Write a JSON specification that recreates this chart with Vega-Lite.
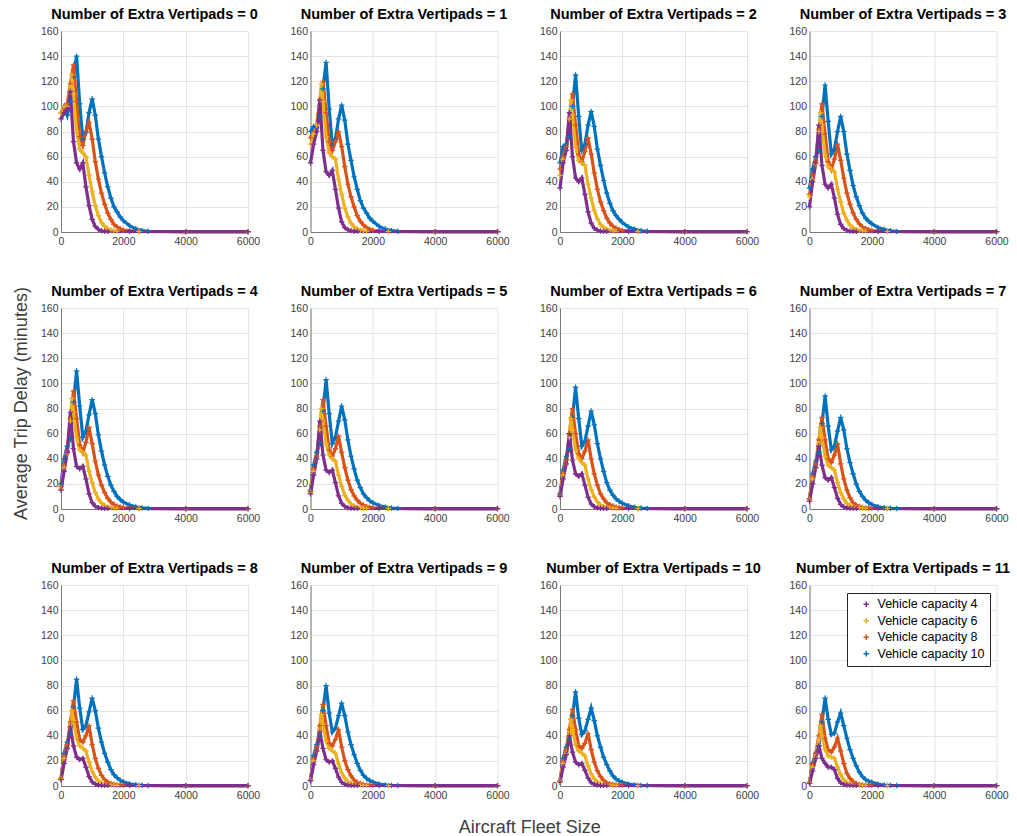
{
"$schema": "https://vega.github.io/schema/vega-lite/v6.json",
"background": "white",
"padding": {"left": 13, "top": 6, "right": 5, "bottom": 5},
"config": {
 "font": "Liberation Sans",
 "view": {"stroke": null},
 "axis": {"labelFontSize": 10.5, "labelColor": "#404040", "labelFont": "Liberation Sans", "domainColor": "#7a7a7a", "domainWidth": 1, "gridColor": "#e4e4e4", "gridWidth": 1, "ticks": false, "labelPadding": 3, "title": null, "labelOverlap": false},
 "axisX": {"labelFlush": false, "labelPadding": 4},
 "header": {"labelFontSize": 14.5, "labelFontWeight": "bold", "labelColor": "#000000", "labelPadding": 4, "labelFont": "Liberation Sans"}
},
"title": {"text": "Aircraft Fleet Size", "orient": "bottom", "anchor": "middle", "fontSize": 18, "fontWeight": "normal", "color": "#404040", "offset": 18, "dx": 18, "font": "Liberation Sans"},
"data": {"values": [
{"v":0,"c":10,"x":0,"y":95},{"v":0,"c":10,"x":100,"y":100},{"v":0,"c":10,"x":200,"y":93},{"v":0,"c":10,"x":300,"y":104},{"v":0,"c":10,"x":400,"y":124},{"v":0,"c":10,"x":500,"y":140},{"v":0,"c":10,"x":600,"y":102},{"v":0,"c":10,"x":700,"y":74},{"v":0,"c":10,"x":800,"y":79},{"v":0,"c":10,"x":900,"y":95},{"v":0,"c":10,"x":1000,"y":106},{"v":0,"c":10,"x":1100,"y":93},{"v":0,"c":10,"x":1200,"y":74},{"v":0,"c":10,"x":1300,"y":60},{"v":0,"c":10,"x":1400,"y":47},{"v":0,"c":10,"x":1500,"y":36},{"v":0,"c":10,"x":1600,"y":27},{"v":0,"c":10,"x":1700,"y":20},{"v":0,"c":10,"x":1800,"y":16},{"v":0,"c":10,"x":1900,"y":12},{"v":0,"c":10,"x":2000,"y":9},{"v":0,"c":10,"x":2200,"y":5},{"v":0,"c":10,"x":2400,"y":2.5},{"v":0,"c":10,"x":2600,"y":1.2},{"v":0,"c":10,"x":2800,"y":0.6},{"v":0,"c":10,"x":4000,"y":0.3},{"v":0,"c":10,"x":6000,"y":0.3},
{"v":0,"c":8,"x":0,"y":95},{"v":0,"c":8,"x":100,"y":98},{"v":0,"c":8,"x":200,"y":102},{"v":0,"c":8,"x":300,"y":118},{"v":0,"c":8,"x":400,"y":133},{"v":0,"c":8,"x":500,"y":104},{"v":0,"c":8,"x":600,"y":76},{"v":0,"c":8,"x":700,"y":69},{"v":0,"c":8,"x":800,"y":80},{"v":0,"c":8,"x":900,"y":87},{"v":0,"c":8,"x":1000,"y":74},{"v":0,"c":8,"x":1100,"y":56},{"v":0,"c":8,"x":1200,"y":42},{"v":0,"c":8,"x":1300,"y":31},{"v":0,"c":8,"x":1400,"y":22},{"v":0,"c":8,"x":1500,"y":15},{"v":0,"c":8,"x":1600,"y":10},{"v":0,"c":8,"x":1700,"y":6},{"v":0,"c":8,"x":1800,"y":4},{"v":0,"c":8,"x":1900,"y":2.5},{"v":0,"c":8,"x":2000,"y":1.5},{"v":0,"c":8,"x":2500,"y":0.6},{"v":0,"c":8,"x":4000,"y":0.3},{"v":0,"c":8,"x":6000,"y":0.3},
{"v":0,"c":6,"x":0,"y":95},{"v":0,"c":6,"x":100,"y":100},{"v":0,"c":6,"x":200,"y":100},{"v":0,"c":6,"x":300,"y":115},{"v":0,"c":6,"x":350,"y":125},{"v":0,"c":6,"x":400,"y":110},{"v":0,"c":6,"x":500,"y":80},{"v":0,"c":6,"x":600,"y":66},{"v":0,"c":6,"x":700,"y":63},{"v":0,"c":6,"x":800,"y":60},{"v":0,"c":6,"x":900,"y":45},{"v":0,"c":6,"x":1000,"y":32},{"v":0,"c":6,"x":1100,"y":21},{"v":0,"c":6,"x":1200,"y":13},{"v":0,"c":6,"x":1300,"y":7.5},{"v":0,"c":6,"x":1400,"y":4.5},{"v":0,"c":6,"x":1500,"y":2.7},{"v":0,"c":6,"x":1600,"y":1.6},{"v":0,"c":6,"x":1700,"y":1},{"v":0,"c":6,"x":1800,"y":0.7},{"v":0,"c":6,"x":2500,"y":0.4},{"v":0,"c":6,"x":4000,"y":0.3},{"v":0,"c":6,"x":6000,"y":0.3},
{"v":0,"c":4,"x":0,"y":90},{"v":0,"c":4,"x":100,"y":95},{"v":0,"c":4,"x":200,"y":98},{"v":0,"c":4,"x":300,"y":112},{"v":0,"c":4,"x":400,"y":72},{"v":0,"c":4,"x":500,"y":55},{"v":0,"c":4,"x":600,"y":50},{"v":0,"c":4,"x":700,"y":55},{"v":0,"c":4,"x":800,"y":36},{"v":0,"c":4,"x":900,"y":21},{"v":0,"c":4,"x":1000,"y":10},{"v":0,"c":4,"x":1100,"y":4.5},{"v":0,"c":4,"x":1200,"y":2},{"v":0,"c":4,"x":1300,"y":1},{"v":0,"c":4,"x":1400,"y":0.6},{"v":0,"c":4,"x":1500,"y":0.5},{"v":0,"c":4,"x":2200,"y":0.4},{"v":0,"c":4,"x":4000,"y":0.3},{"v":0,"c":4,"x":6000,"y":0.3},
{"v":1,"c":10,"x":0,"y":80},{"v":1,"c":10,"x":100,"y":84},{"v":1,"c":10,"x":200,"y":83},{"v":1,"c":10,"x":300,"y":92},{"v":1,"c":10,"x":400,"y":114},{"v":1,"c":10,"x":500,"y":135},{"v":1,"c":10,"x":600,"y":98},{"v":1,"c":10,"x":700,"y":69},{"v":1,"c":10,"x":800,"y":74},{"v":1,"c":10,"x":900,"y":90},{"v":1,"c":10,"x":1000,"y":101},{"v":1,"c":10,"x":1100,"y":89},{"v":1,"c":10,"x":1200,"y":70},{"v":1,"c":10,"x":1300,"y":57},{"v":1,"c":10,"x":1400,"y":44},{"v":1,"c":10,"x":1500,"y":34},{"v":1,"c":10,"x":1600,"y":25},{"v":1,"c":10,"x":1700,"y":19},{"v":1,"c":10,"x":1800,"y":15},{"v":1,"c":10,"x":1900,"y":11},{"v":1,"c":10,"x":2000,"y":8.5},{"v":1,"c":10,"x":2200,"y":4.5},{"v":1,"c":10,"x":2400,"y":2.3},{"v":1,"c":10,"x":2600,"y":1.1},{"v":1,"c":10,"x":2800,"y":0.6},{"v":1,"c":10,"x":4000,"y":0.3},{"v":1,"c":10,"x":6000,"y":0.3},
{"v":1,"c":8,"x":0,"y":75},{"v":1,"c":8,"x":100,"y":80},{"v":1,"c":8,"x":200,"y":85},{"v":1,"c":8,"x":300,"y":105},{"v":1,"c":8,"x":400,"y":120},{"v":1,"c":8,"x":500,"y":95},{"v":1,"c":8,"x":600,"y":72},{"v":1,"c":8,"x":700,"y":65},{"v":1,"c":8,"x":800,"y":72},{"v":1,"c":8,"x":900,"y":80},{"v":1,"c":8,"x":1000,"y":68},{"v":1,"c":8,"x":1100,"y":52},{"v":1,"c":8,"x":1200,"y":38},{"v":1,"c":8,"x":1300,"y":28},{"v":1,"c":8,"x":1400,"y":20},{"v":1,"c":8,"x":1500,"y":13},{"v":1,"c":8,"x":1600,"y":8.5},{"v":1,"c":8,"x":1700,"y":5.5},{"v":1,"c":8,"x":1800,"y":3.5},{"v":1,"c":8,"x":1900,"y":2.2},{"v":1,"c":8,"x":2000,"y":1.4},{"v":1,"c":8,"x":2500,"y":0.5},{"v":1,"c":8,"x":4000,"y":0.3},{"v":1,"c":8,"x":6000,"y":0.3},
{"v":1,"c":6,"x":0,"y":70},{"v":1,"c":6,"x":100,"y":78},{"v":1,"c":6,"x":200,"y":85},{"v":1,"c":6,"x":300,"y":105},{"v":1,"c":6,"x":350,"y":118},{"v":1,"c":6,"x":400,"y":104},{"v":1,"c":6,"x":500,"y":76},{"v":1,"c":6,"x":600,"y":63},{"v":1,"c":6,"x":700,"y":60},{"v":1,"c":6,"x":800,"y":58},{"v":1,"c":6,"x":900,"y":42},{"v":1,"c":6,"x":1000,"y":30},{"v":1,"c":6,"x":1100,"y":19},{"v":1,"c":6,"x":1200,"y":12},{"v":1,"c":6,"x":1300,"y":7},{"v":1,"c":6,"x":1400,"y":4},{"v":1,"c":6,"x":1500,"y":2.5},{"v":1,"c":6,"x":1600,"y":1.5},{"v":1,"c":6,"x":1700,"y":1},{"v":1,"c":6,"x":1800,"y":0.7},{"v":1,"c":6,"x":2500,"y":0.4},{"v":1,"c":6,"x":4000,"y":0.3},{"v":1,"c":6,"x":6000,"y":0.3},
{"v":1,"c":4,"x":0,"y":55},{"v":1,"c":4,"x":100,"y":70},{"v":1,"c":4,"x":200,"y":80},{"v":1,"c":4,"x":300,"y":105},{"v":1,"c":4,"x":400,"y":65},{"v":1,"c":4,"x":500,"y":48},{"v":1,"c":4,"x":600,"y":45},{"v":1,"c":4,"x":700,"y":49},{"v":1,"c":4,"x":800,"y":34},{"v":1,"c":4,"x":900,"y":19},{"v":1,"c":4,"x":1000,"y":8},{"v":1,"c":4,"x":1100,"y":3.5},{"v":1,"c":4,"x":1200,"y":1.8},{"v":1,"c":4,"x":1300,"y":1},{"v":1,"c":4,"x":1400,"y":0.6},{"v":1,"c":4,"x":1500,"y":0.5},{"v":1,"c":4,"x":2200,"y":0.4},{"v":1,"c":4,"x":4000,"y":0.3},{"v":1,"c":4,"x":6000,"y":0.3},
{"v":2,"c":10,"x":0,"y":55},{"v":2,"c":10,"x":100,"y":68},{"v":2,"c":10,"x":200,"y":70},{"v":2,"c":10,"x":300,"y":76},{"v":2,"c":10,"x":400,"y":100},{"v":2,"c":10,"x":500,"y":125},{"v":2,"c":10,"x":600,"y":92},{"v":2,"c":10,"x":700,"y":64},{"v":2,"c":10,"x":800,"y":70},{"v":2,"c":10,"x":900,"y":85},{"v":2,"c":10,"x":1000,"y":96},{"v":2,"c":10,"x":1100,"y":84},{"v":2,"c":10,"x":1200,"y":66},{"v":2,"c":10,"x":1300,"y":53},{"v":2,"c":10,"x":1400,"y":41},{"v":2,"c":10,"x":1500,"y":31},{"v":2,"c":10,"x":1600,"y":23},{"v":2,"c":10,"x":1700,"y":17},{"v":2,"c":10,"x":1800,"y":13},{"v":2,"c":10,"x":1900,"y":10},{"v":2,"c":10,"x":2000,"y":7.5},{"v":2,"c":10,"x":2200,"y":4},{"v":2,"c":10,"x":2400,"y":2.1},{"v":2,"c":10,"x":2600,"y":1},{"v":2,"c":10,"x":2800,"y":0.6},{"v":2,"c":10,"x":4000,"y":0.3},{"v":2,"c":10,"x":6000,"y":0.3},
{"v":2,"c":8,"x":0,"y":50},{"v":2,"c":8,"x":100,"y":60},{"v":2,"c":8,"x":200,"y":68},{"v":2,"c":8,"x":300,"y":90},{"v":2,"c":8,"x":400,"y":110},{"v":2,"c":8,"x":500,"y":85},{"v":2,"c":8,"x":600,"y":62},{"v":2,"c":8,"x":700,"y":56},{"v":2,"c":8,"x":800,"y":64},{"v":2,"c":8,"x":900,"y":75},{"v":2,"c":8,"x":1000,"y":62},{"v":2,"c":8,"x":1100,"y":47},{"v":2,"c":8,"x":1200,"y":34},{"v":2,"c":8,"x":1300,"y":24},{"v":2,"c":8,"x":1400,"y":17},{"v":2,"c":8,"x":1500,"y":11},{"v":2,"c":8,"x":1600,"y":7},{"v":2,"c":8,"x":1700,"y":4.5},{"v":2,"c":8,"x":1800,"y":3},{"v":2,"c":8,"x":1900,"y":2},{"v":2,"c":8,"x":2000,"y":1.3},{"v":2,"c":8,"x":2500,"y":0.5},{"v":2,"c":8,"x":4000,"y":0.3},{"v":2,"c":8,"x":6000,"y":0.3},
{"v":2,"c":6,"x":0,"y":45},{"v":2,"c":6,"x":100,"y":58},{"v":2,"c":6,"x":200,"y":65},{"v":2,"c":6,"x":300,"y":90},{"v":2,"c":6,"x":350,"y":105},{"v":2,"c":6,"x":400,"y":93},{"v":2,"c":6,"x":500,"y":68},{"v":2,"c":6,"x":600,"y":57},{"v":2,"c":6,"x":700,"y":55},{"v":2,"c":6,"x":800,"y":53},{"v":2,"c":6,"x":900,"y":38},{"v":2,"c":6,"x":1000,"y":27},{"v":2,"c":6,"x":1100,"y":17},{"v":2,"c":6,"x":1200,"y":10.5},{"v":2,"c":6,"x":1300,"y":6},{"v":2,"c":6,"x":1400,"y":3.6},{"v":2,"c":6,"x":1500,"y":2.2},{"v":2,"c":6,"x":1600,"y":1.4},{"v":2,"c":6,"x":1700,"y":0.9},{"v":2,"c":6,"x":1800,"y":0.6},{"v":2,"c":6,"x":2500,"y":0.4},{"v":2,"c":6,"x":4000,"y":0.3},{"v":2,"c":6,"x":6000,"y":0.3},
{"v":2,"c":4,"x":0,"y":35},{"v":2,"c":4,"x":100,"y":55},{"v":2,"c":4,"x":200,"y":65},{"v":2,"c":4,"x":300,"y":95},{"v":2,"c":4,"x":400,"y":60},{"v":2,"c":4,"x":500,"y":43},{"v":2,"c":4,"x":600,"y":40},{"v":2,"c":4,"x":700,"y":43},{"v":2,"c":4,"x":800,"y":30},{"v":2,"c":4,"x":900,"y":16},{"v":2,"c":4,"x":1000,"y":7},{"v":2,"c":4,"x":1100,"y":3},{"v":2,"c":4,"x":1200,"y":1.4},{"v":2,"c":4,"x":1300,"y":0.8},{"v":2,"c":4,"x":1400,"y":0.5},{"v":2,"c":4,"x":1500,"y":0.5},{"v":2,"c":4,"x":2200,"y":0.4},{"v":2,"c":4,"x":4000,"y":0.3},{"v":2,"c":4,"x":6000,"y":0.3},
{"v":3,"c":10,"x":0,"y":35},{"v":3,"c":10,"x":100,"y":50},{"v":3,"c":10,"x":200,"y":60},{"v":3,"c":10,"x":300,"y":65},{"v":3,"c":10,"x":400,"y":92},{"v":3,"c":10,"x":500,"y":117},{"v":3,"c":10,"x":600,"y":88},{"v":3,"c":10,"x":700,"y":62},{"v":3,"c":10,"x":800,"y":66},{"v":3,"c":10,"x":900,"y":80},{"v":3,"c":10,"x":1000,"y":92},{"v":3,"c":10,"x":1100,"y":80},{"v":3,"c":10,"x":1200,"y":62},{"v":3,"c":10,"x":1300,"y":49},{"v":3,"c":10,"x":1400,"y":37},{"v":3,"c":10,"x":1500,"y":28},{"v":3,"c":10,"x":1600,"y":21},{"v":3,"c":10,"x":1700,"y":15},{"v":3,"c":10,"x":1800,"y":11},{"v":3,"c":10,"x":1900,"y":8.5},{"v":3,"c":10,"x":2000,"y":6.5},{"v":3,"c":10,"x":2200,"y":3.6},{"v":3,"c":10,"x":2400,"y":1.9},{"v":3,"c":10,"x":2600,"y":1},{"v":3,"c":10,"x":2800,"y":0.5},{"v":3,"c":10,"x":4000,"y":0.3},{"v":3,"c":10,"x":6000,"y":0.3},
{"v":3,"c":8,"x":0,"y":30},{"v":3,"c":8,"x":100,"y":45},{"v":3,"c":8,"x":200,"y":57},{"v":3,"c":8,"x":300,"y":82},{"v":3,"c":8,"x":400,"y":102},{"v":3,"c":8,"x":500,"y":78},{"v":3,"c":8,"x":600,"y":56},{"v":3,"c":8,"x":700,"y":50},{"v":3,"c":8,"x":800,"y":58},{"v":3,"c":8,"x":900,"y":70},{"v":3,"c":8,"x":1000,"y":57},{"v":3,"c":8,"x":1100,"y":43},{"v":3,"c":8,"x":1200,"y":31},{"v":3,"c":8,"x":1300,"y":22},{"v":3,"c":8,"x":1400,"y":15},{"v":3,"c":8,"x":1500,"y":10},{"v":3,"c":8,"x":1600,"y":6.5},{"v":3,"c":8,"x":1700,"y":4},{"v":3,"c":8,"x":1800,"y":2.7},{"v":3,"c":8,"x":1900,"y":1.8},{"v":3,"c":8,"x":2000,"y":1.2},{"v":3,"c":8,"x":2500,"y":0.5},{"v":3,"c":8,"x":4000,"y":0.3},{"v":3,"c":8,"x":6000,"y":0.3},
{"v":3,"c":6,"x":0,"y":28},{"v":3,"c":6,"x":100,"y":42},{"v":3,"c":6,"x":200,"y":54},{"v":3,"c":6,"x":300,"y":80},{"v":3,"c":6,"x":350,"y":95},{"v":3,"c":6,"x":400,"y":85},{"v":3,"c":6,"x":500,"y":62},{"v":3,"c":6,"x":600,"y":52},{"v":3,"c":6,"x":700,"y":50},{"v":3,"c":6,"x":800,"y":48},{"v":3,"c":6,"x":900,"y":34},{"v":3,"c":6,"x":1000,"y":24},{"v":3,"c":6,"x":1100,"y":15},{"v":3,"c":6,"x":1200,"y":9.5},{"v":3,"c":6,"x":1300,"y":5.5},{"v":3,"c":6,"x":1400,"y":3.3},{"v":3,"c":6,"x":1500,"y":2},{"v":3,"c":6,"x":1600,"y":1.3},{"v":3,"c":6,"x":1700,"y":0.9},{"v":3,"c":6,"x":1800,"y":0.6},{"v":3,"c":6,"x":2500,"y":0.4},{"v":3,"c":6,"x":4000,"y":0.3},{"v":3,"c":6,"x":6000,"y":0.3},
{"v":3,"c":4,"x":0,"y":20},{"v":3,"c":4,"x":100,"y":40},{"v":3,"c":4,"x":200,"y":55},{"v":3,"c":4,"x":300,"y":85},{"v":3,"c":4,"x":400,"y":53},{"v":3,"c":4,"x":500,"y":38},{"v":3,"c":4,"x":600,"y":35},{"v":3,"c":4,"x":700,"y":38},{"v":3,"c":4,"x":800,"y":27},{"v":3,"c":4,"x":900,"y":14},{"v":3,"c":4,"x":1000,"y":6},{"v":3,"c":4,"x":1100,"y":2.7},{"v":3,"c":4,"x":1200,"y":1.2},{"v":3,"c":4,"x":1300,"y":0.7},{"v":3,"c":4,"x":1400,"y":0.5},{"v":3,"c":4,"x":1500,"y":0.5},{"v":3,"c":4,"x":2200,"y":0.4},{"v":3,"c":4,"x":4000,"y":0.3},{"v":3,"c":4,"x":6000,"y":0.3},
{"v":4,"c":10,"x":0,"y":20},{"v":4,"c":10,"x":100,"y":40},{"v":4,"c":10,"x":200,"y":50},{"v":4,"c":10,"x":300,"y":56},{"v":4,"c":10,"x":400,"y":85},{"v":4,"c":10,"x":500,"y":110},{"v":4,"c":10,"x":600,"y":82},{"v":4,"c":10,"x":700,"y":57},{"v":4,"c":10,"x":800,"y":62},{"v":4,"c":10,"x":900,"y":75},{"v":4,"c":10,"x":1000,"y":87},{"v":4,"c":10,"x":1100,"y":76},{"v":4,"c":10,"x":1200,"y":59},{"v":4,"c":10,"x":1300,"y":46},{"v":4,"c":10,"x":1400,"y":35},{"v":4,"c":10,"x":1500,"y":26},{"v":4,"c":10,"x":1600,"y":19},{"v":4,"c":10,"x":1700,"y":14},{"v":4,"c":10,"x":1800,"y":10},{"v":4,"c":10,"x":1900,"y":7.5},{"v":4,"c":10,"x":2000,"y":5.5},{"v":4,"c":10,"x":2200,"y":3.2},{"v":4,"c":10,"x":2400,"y":1.7},{"v":4,"c":10,"x":2600,"y":0.9},{"v":4,"c":10,"x":2800,"y":0.5},{"v":4,"c":10,"x":4000,"y":0.3},{"v":4,"c":10,"x":6000,"y":0.3},
{"v":4,"c":8,"x":0,"y":18},{"v":4,"c":8,"x":100,"y":35},{"v":4,"c":8,"x":200,"y":46},{"v":4,"c":8,"x":300,"y":72},{"v":4,"c":8,"x":400,"y":94},{"v":4,"c":8,"x":500,"y":72},{"v":4,"c":8,"x":600,"y":51},{"v":4,"c":8,"x":700,"y":45},{"v":4,"c":8,"x":800,"y":53},{"v":4,"c":8,"x":900,"y":65},{"v":4,"c":8,"x":1000,"y":52},{"v":4,"c":8,"x":1100,"y":38},{"v":4,"c":8,"x":1200,"y":27},{"v":4,"c":8,"x":1300,"y":19},{"v":4,"c":8,"x":1400,"y":13},{"v":4,"c":8,"x":1500,"y":8.5},{"v":4,"c":8,"x":1600,"y":5.5},{"v":4,"c":8,"x":1700,"y":3.5},{"v":4,"c":8,"x":1800,"y":2.3},{"v":4,"c":8,"x":1900,"y":1.6},{"v":4,"c":8,"x":2000,"y":1.1},{"v":4,"c":8,"x":2500,"y":0.5},{"v":4,"c":8,"x":4000,"y":0.3},{"v":4,"c":8,"x":6000,"y":0.3},
{"v":4,"c":6,"x":0,"y":16},{"v":4,"c":6,"x":100,"y":33},{"v":4,"c":6,"x":200,"y":44},{"v":4,"c":6,"x":300,"y":70},{"v":4,"c":6,"x":350,"y":88},{"v":4,"c":6,"x":400,"y":77},{"v":4,"c":6,"x":500,"y":57},{"v":4,"c":6,"x":600,"y":47},{"v":4,"c":6,"x":700,"y":45},{"v":4,"c":6,"x":800,"y":43},{"v":4,"c":6,"x":900,"y":30},{"v":4,"c":6,"x":1000,"y":21},{"v":4,"c":6,"x":1100,"y":13},{"v":4,"c":6,"x":1200,"y":8},{"v":4,"c":6,"x":1300,"y":4.7},{"v":4,"c":6,"x":1400,"y":2.8},{"v":4,"c":6,"x":1500,"y":1.7},{"v":4,"c":6,"x":1600,"y":1.1},{"v":4,"c":6,"x":1700,"y":0.8},{"v":4,"c":6,"x":1800,"y":0.6},{"v":4,"c":6,"x":2500,"y":0.4},{"v":4,"c":6,"x":4000,"y":0.3},{"v":4,"c":6,"x":6000,"y":0.3},
{"v":4,"c":4,"x":0,"y":15},{"v":4,"c":4,"x":100,"y":30},{"v":4,"c":4,"x":200,"y":45},{"v":4,"c":4,"x":300,"y":77},{"v":4,"c":4,"x":400,"y":48},{"v":4,"c":4,"x":500,"y":34},{"v":4,"c":4,"x":600,"y":32},{"v":4,"c":4,"x":700,"y":34},{"v":4,"c":4,"x":800,"y":24},{"v":4,"c":4,"x":900,"y":12},{"v":4,"c":4,"x":1000,"y":5},{"v":4,"c":4,"x":1100,"y":2.3},{"v":4,"c":4,"x":1200,"y":1.1},{"v":4,"c":4,"x":1300,"y":0.7},{"v":4,"c":4,"x":1400,"y":0.5},{"v":4,"c":4,"x":1500,"y":0.5},{"v":4,"c":4,"x":2200,"y":0.4},{"v":4,"c":4,"x":4000,"y":0.3},{"v":4,"c":4,"x":6000,"y":0.3},
{"v":5,"c":10,"x":0,"y":15},{"v":5,"c":10,"x":100,"y":35},{"v":5,"c":10,"x":200,"y":45},{"v":5,"c":10,"x":300,"y":52},{"v":5,"c":10,"x":400,"y":78},{"v":5,"c":10,"x":500,"y":103},{"v":5,"c":10,"x":600,"y":76},{"v":5,"c":10,"x":700,"y":52},{"v":5,"c":10,"x":800,"y":57},{"v":5,"c":10,"x":900,"y":70},{"v":5,"c":10,"x":1000,"y":82},{"v":5,"c":10,"x":1100,"y":71},{"v":5,"c":10,"x":1200,"y":55},{"v":5,"c":10,"x":1300,"y":42},{"v":5,"c":10,"x":1400,"y":32},{"v":5,"c":10,"x":1500,"y":23},{"v":5,"c":10,"x":1600,"y":17},{"v":5,"c":10,"x":1700,"y":12},{"v":5,"c":10,"x":1800,"y":9},{"v":5,"c":10,"x":1900,"y":6.5},{"v":5,"c":10,"x":2000,"y":5},{"v":5,"c":10,"x":2200,"y":2.8},{"v":5,"c":10,"x":2400,"y":1.5},{"v":5,"c":10,"x":2600,"y":0.8},{"v":5,"c":10,"x":2800,"y":0.5},{"v":5,"c":10,"x":4000,"y":0.3},{"v":5,"c":10,"x":6000,"y":0.3},
{"v":5,"c":8,"x":0,"y":14},{"v":5,"c":8,"x":100,"y":32},{"v":5,"c":8,"x":200,"y":42},{"v":5,"c":8,"x":300,"y":66},{"v":5,"c":8,"x":400,"y":87},{"v":5,"c":8,"x":500,"y":66},{"v":5,"c":8,"x":600,"y":47},{"v":5,"c":8,"x":700,"y":42},{"v":5,"c":8,"x":800,"y":48},{"v":5,"c":8,"x":900,"y":58},{"v":5,"c":8,"x":1000,"y":45},{"v":5,"c":8,"x":1100,"y":33},{"v":5,"c":8,"x":1200,"y":23},{"v":5,"c":8,"x":1300,"y":15.5},{"v":5,"c":8,"x":1400,"y":10.5},{"v":5,"c":8,"x":1500,"y":7},{"v":5,"c":8,"x":1600,"y":4.5},{"v":5,"c":8,"x":1700,"y":3},{"v":5,"c":8,"x":1800,"y":2},{"v":5,"c":8,"x":1900,"y":1.4},{"v":5,"c":8,"x":2000,"y":1},{"v":5,"c":8,"x":2500,"y":0.5},{"v":5,"c":8,"x":4000,"y":0.3},{"v":5,"c":8,"x":6000,"y":0.3},
{"v":5,"c":6,"x":0,"y":13},{"v":5,"c":6,"x":100,"y":30},{"v":5,"c":6,"x":200,"y":40},{"v":5,"c":6,"x":300,"y":63},{"v":5,"c":6,"x":350,"y":80},{"v":5,"c":6,"x":400,"y":70},{"v":5,"c":6,"x":500,"y":52},{"v":5,"c":6,"x":600,"y":43},{"v":5,"c":6,"x":700,"y":40},{"v":5,"c":6,"x":800,"y":38},{"v":5,"c":6,"x":900,"y":27},{"v":5,"c":6,"x":1000,"y":18},{"v":5,"c":6,"x":1100,"y":11},{"v":5,"c":6,"x":1200,"y":7},{"v":5,"c":6,"x":1300,"y":4},{"v":5,"c":6,"x":1400,"y":2.4},{"v":5,"c":6,"x":1500,"y":1.5},{"v":5,"c":6,"x":1600,"y":1},{"v":5,"c":6,"x":1700,"y":0.7},{"v":5,"c":6,"x":1800,"y":0.5},{"v":5,"c":6,"x":2500,"y":0.4},{"v":5,"c":6,"x":4000,"y":0.3},{"v":5,"c":6,"x":6000,"y":0.3},
{"v":5,"c":4,"x":0,"y":12},{"v":5,"c":4,"x":100,"y":27},{"v":5,"c":4,"x":200,"y":40},{"v":5,"c":4,"x":300,"y":70},{"v":5,"c":4,"x":400,"y":43},{"v":5,"c":4,"x":500,"y":31},{"v":5,"c":4,"x":600,"y":29},{"v":5,"c":4,"x":700,"y":31},{"v":5,"c":4,"x":800,"y":21},{"v":5,"c":4,"x":900,"y":10.5},{"v":5,"c":4,"x":1000,"y":4.5},{"v":5,"c":4,"x":1100,"y":2},{"v":5,"c":4,"x":1200,"y":1},{"v":5,"c":4,"x":1300,"y":0.6},{"v":5,"c":4,"x":1400,"y":0.5},{"v":5,"c":4,"x":1500,"y":0.5},{"v":5,"c":4,"x":2200,"y":0.4},{"v":5,"c":4,"x":4000,"y":0.3},{"v":5,"c":4,"x":6000,"y":0.3},
{"v":6,"c":10,"x":0,"y":12},{"v":6,"c":10,"x":100,"y":31},{"v":6,"c":10,"x":200,"y":42},{"v":6,"c":10,"x":300,"y":48},{"v":6,"c":10,"x":400,"y":73},{"v":6,"c":10,"x":500,"y":97},{"v":6,"c":10,"x":600,"y":72},{"v":6,"c":10,"x":700,"y":50},{"v":6,"c":10,"x":800,"y":54},{"v":6,"c":10,"x":900,"y":66},{"v":6,"c":10,"x":1000,"y":78},{"v":6,"c":10,"x":1100,"y":67},{"v":6,"c":10,"x":1200,"y":52},{"v":6,"c":10,"x":1300,"y":40},{"v":6,"c":10,"x":1400,"y":30},{"v":6,"c":10,"x":1500,"y":21},{"v":6,"c":10,"x":1600,"y":15},{"v":6,"c":10,"x":1700,"y":11},{"v":6,"c":10,"x":1800,"y":8},{"v":6,"c":10,"x":1900,"y":6},{"v":6,"c":10,"x":2000,"y":4.5},{"v":6,"c":10,"x":2200,"y":2.5},{"v":6,"c":10,"x":2400,"y":1.4},{"v":6,"c":10,"x":2600,"y":0.8},{"v":6,"c":10,"x":2800,"y":0.5},{"v":6,"c":10,"x":4000,"y":0.3},{"v":6,"c":10,"x":6000,"y":0.3},
{"v":6,"c":8,"x":0,"y":11},{"v":6,"c":8,"x":100,"y":29},{"v":6,"c":8,"x":200,"y":39},{"v":6,"c":8,"x":300,"y":60},{"v":6,"c":8,"x":400,"y":80},{"v":6,"c":8,"x":500,"y":60},{"v":6,"c":8,"x":600,"y":44},{"v":6,"c":8,"x":700,"y":40},{"v":6,"c":8,"x":800,"y":46},{"v":6,"c":8,"x":900,"y":55},{"v":6,"c":8,"x":1000,"y":40},{"v":6,"c":8,"x":1100,"y":28},{"v":6,"c":8,"x":1200,"y":19},{"v":6,"c":8,"x":1300,"y":12},{"v":6,"c":8,"x":1400,"y":8},{"v":6,"c":8,"x":1500,"y":5},{"v":6,"c":8,"x":1600,"y":3.3},{"v":6,"c":8,"x":1700,"y":2.3},{"v":6,"c":8,"x":1800,"y":1.6},{"v":6,"c":8,"x":1900,"y":1.1},{"v":6,"c":8,"x":2000,"y":0.8},{"v":6,"c":8,"x":2500,"y":0.4},{"v":6,"c":8,"x":4000,"y":0.3},{"v":6,"c":8,"x":6000,"y":0.3},
{"v":6,"c":6,"x":0,"y":10},{"v":6,"c":6,"x":100,"y":27},{"v":6,"c":6,"x":200,"y":36},{"v":6,"c":6,"x":300,"y":57},{"v":6,"c":6,"x":350,"y":72},{"v":6,"c":6,"x":400,"y":63},{"v":6,"c":6,"x":500,"y":47},{"v":6,"c":6,"x":600,"y":40},{"v":6,"c":6,"x":700,"y":37},{"v":6,"c":6,"x":800,"y":35},{"v":6,"c":6,"x":900,"y":24},{"v":6,"c":6,"x":1000,"y":15.5},{"v":6,"c":6,"x":1100,"y":9.5},{"v":6,"c":6,"x":1200,"y":5.7},{"v":6,"c":6,"x":1300,"y":3.3},{"v":6,"c":6,"x":1400,"y":2},{"v":6,"c":6,"x":1500,"y":1.3},{"v":6,"c":6,"x":1600,"y":0.9},{"v":6,"c":6,"x":1700,"y":0.7},{"v":6,"c":6,"x":1800,"y":0.5},{"v":6,"c":6,"x":2500,"y":0.4},{"v":6,"c":6,"x":4000,"y":0.3},{"v":6,"c":6,"x":6000,"y":0.3},
{"v":6,"c":4,"x":0,"y":10},{"v":6,"c":4,"x":100,"y":24},{"v":6,"c":4,"x":200,"y":36},{"v":6,"c":4,"x":300,"y":60},{"v":6,"c":4,"x":400,"y":39},{"v":6,"c":4,"x":500,"y":28},{"v":6,"c":4,"x":600,"y":26},{"v":6,"c":4,"x":700,"y":28},{"v":6,"c":4,"x":800,"y":19},{"v":6,"c":4,"x":900,"y":9.5},{"v":6,"c":4,"x":1000,"y":4},{"v":6,"c":4,"x":1100,"y":1.8},{"v":6,"c":4,"x":1200,"y":1},{"v":6,"c":4,"x":1300,"y":0.6},{"v":6,"c":4,"x":1400,"y":0.5},{"v":6,"c":4,"x":1500,"y":0.5},{"v":6,"c":4,"x":2200,"y":0.4},{"v":6,"c":4,"x":4000,"y":0.3},{"v":6,"c":4,"x":6000,"y":0.3},
{"v":7,"c":10,"x":0,"y":8},{"v":7,"c":10,"x":100,"y":28},{"v":7,"c":10,"x":200,"y":38},{"v":7,"c":10,"x":300,"y":45},{"v":7,"c":10,"x":400,"y":68},{"v":7,"c":10,"x":500,"y":90},{"v":7,"c":10,"x":600,"y":66},{"v":7,"c":10,"x":700,"y":47},{"v":7,"c":10,"x":800,"y":50},{"v":7,"c":10,"x":900,"y":62},{"v":7,"c":10,"x":1000,"y":73},{"v":7,"c":10,"x":1100,"y":63},{"v":7,"c":10,"x":1200,"y":48},{"v":7,"c":10,"x":1300,"y":37},{"v":7,"c":10,"x":1400,"y":28},{"v":7,"c":10,"x":1500,"y":20},{"v":7,"c":10,"x":1600,"y":14},{"v":7,"c":10,"x":1700,"y":10},{"v":7,"c":10,"x":1800,"y":7},{"v":7,"c":10,"x":1900,"y":5},{"v":7,"c":10,"x":2000,"y":3.5},{"v":7,"c":10,"x":2200,"y":1.8},{"v":7,"c":10,"x":2400,"y":1},{"v":7,"c":10,"x":2600,"y":0.6},{"v":7,"c":10,"x":2800,"y":0.4},{"v":7,"c":10,"x":4000,"y":0.3},{"v":7,"c":10,"x":6000,"y":0.3},
{"v":7,"c":8,"x":0,"y":8},{"v":7,"c":8,"x":100,"y":26},{"v":7,"c":8,"x":200,"y":36},{"v":7,"c":8,"x":300,"y":55},{"v":7,"c":8,"x":400,"y":73},{"v":7,"c":8,"x":500,"y":55},{"v":7,"c":8,"x":600,"y":40},{"v":7,"c":8,"x":700,"y":37},{"v":7,"c":8,"x":800,"y":43},{"v":7,"c":8,"x":900,"y":52},{"v":7,"c":8,"x":1000,"y":36},{"v":7,"c":8,"x":1100,"y":24},{"v":7,"c":8,"x":1200,"y":15},{"v":7,"c":8,"x":1300,"y":9},{"v":7,"c":8,"x":1400,"y":5},{"v":7,"c":8,"x":1500,"y":3},{"v":7,"c":8,"x":1600,"y":2},{"v":7,"c":8,"x":1700,"y":1.4},{"v":7,"c":8,"x":1800,"y":1},{"v":7,"c":8,"x":1900,"y":0.8},{"v":7,"c":8,"x":2000,"y":0.6},{"v":7,"c":8,"x":2500,"y":0.4},{"v":7,"c":8,"x":4000,"y":0.3},{"v":7,"c":8,"x":6000,"y":0.3},
{"v":7,"c":6,"x":0,"y":7},{"v":7,"c":6,"x":100,"y":24},{"v":7,"c":6,"x":200,"y":33},{"v":7,"c":6,"x":300,"y":52},{"v":7,"c":6,"x":350,"y":65},{"v":7,"c":6,"x":400,"y":57},{"v":7,"c":6,"x":500,"y":42},{"v":7,"c":6,"x":600,"y":35},{"v":7,"c":6,"x":700,"y":33},{"v":7,"c":6,"x":800,"y":31},{"v":7,"c":6,"x":900,"y":21},{"v":7,"c":6,"x":1000,"y":13},{"v":7,"c":6,"x":1100,"y":8},{"v":7,"c":6,"x":1200,"y":4.5},{"v":7,"c":6,"x":1300,"y":2.6},{"v":7,"c":6,"x":1400,"y":1.6},{"v":7,"c":6,"x":1500,"y":1.1},{"v":7,"c":6,"x":1600,"y":0.8},{"v":7,"c":6,"x":1700,"y":0.6},{"v":7,"c":6,"x":1800,"y":0.5},{"v":7,"c":6,"x":2500,"y":0.4},{"v":7,"c":6,"x":4000,"y":0.3},{"v":7,"c":6,"x":6000,"y":0.3},
{"v":7,"c":4,"x":0,"y":6},{"v":7,"c":4,"x":100,"y":20},{"v":7,"c":4,"x":200,"y":33},{"v":7,"c":4,"x":300,"y":50},{"v":7,"c":4,"x":400,"y":35},{"v":7,"c":4,"x":500,"y":25},{"v":7,"c":4,"x":600,"y":23},{"v":7,"c":4,"x":700,"y":25},{"v":7,"c":4,"x":800,"y":17},{"v":7,"c":4,"x":900,"y":8.5},{"v":7,"c":4,"x":1000,"y":3.6},{"v":7,"c":4,"x":1100,"y":1.6},{"v":7,"c":4,"x":1200,"y":0.9},{"v":7,"c":4,"x":1300,"y":0.6},{"v":7,"c":4,"x":1400,"y":0.5},{"v":7,"c":4,"x":1500,"y":0.5},{"v":7,"c":4,"x":2200,"y":0.4},{"v":7,"c":4,"x":4000,"y":0.3},{"v":7,"c":4,"x":6000,"y":0.3},
{"v":8,"c":10,"x":0,"y":6},{"v":8,"c":10,"x":100,"y":26},{"v":8,"c":10,"x":200,"y":35},{"v":8,"c":10,"x":300,"y":42},{"v":8,"c":10,"x":400,"y":63},{"v":8,"c":10,"x":500,"y":85},{"v":8,"c":10,"x":600,"y":62},{"v":8,"c":10,"x":700,"y":45},{"v":8,"c":10,"x":800,"y":48},{"v":8,"c":10,"x":900,"y":59},{"v":8,"c":10,"x":1000,"y":70},{"v":8,"c":10,"x":1100,"y":60},{"v":8,"c":10,"x":1200,"y":46},{"v":8,"c":10,"x":1300,"y":35},{"v":8,"c":10,"x":1400,"y":26},{"v":8,"c":10,"x":1500,"y":19},{"v":8,"c":10,"x":1600,"y":13},{"v":8,"c":10,"x":1700,"y":9},{"v":8,"c":10,"x":1800,"y":6.5},{"v":8,"c":10,"x":1900,"y":4.5},{"v":8,"c":10,"x":2000,"y":3.3},{"v":8,"c":10,"x":2200,"y":1.7},{"v":8,"c":10,"x":2400,"y":1},{"v":8,"c":10,"x":2600,"y":0.6},{"v":8,"c":10,"x":2800,"y":0.4},{"v":8,"c":10,"x":4000,"y":0.3},{"v":8,"c":10,"x":6000,"y":0.3},
{"v":8,"c":8,"x":0,"y":6},{"v":8,"c":8,"x":100,"y":24},{"v":8,"c":8,"x":200,"y":33},{"v":8,"c":8,"x":300,"y":51},{"v":8,"c":8,"x":400,"y":68},{"v":8,"c":8,"x":500,"y":51},{"v":8,"c":8,"x":600,"y":37},{"v":8,"c":8,"x":700,"y":35},{"v":8,"c":8,"x":800,"y":40},{"v":8,"c":8,"x":900,"y":48},{"v":8,"c":8,"x":1000,"y":33},{"v":8,"c":8,"x":1100,"y":22},{"v":8,"c":8,"x":1200,"y":14},{"v":8,"c":8,"x":1300,"y":8.5},{"v":8,"c":8,"x":1400,"y":5},{"v":8,"c":8,"x":1500,"y":3},{"v":8,"c":8,"x":1600,"y":2},{"v":8,"c":8,"x":1700,"y":1.4},{"v":8,"c":8,"x":1800,"y":1},{"v":8,"c":8,"x":1900,"y":0.8},{"v":8,"c":8,"x":2000,"y":0.6},{"v":8,"c":8,"x":2500,"y":0.4},{"v":8,"c":8,"x":4000,"y":0.3},{"v":8,"c":8,"x":6000,"y":0.3},
{"v":8,"c":6,"x":0,"y":6},{"v":8,"c":6,"x":100,"y":22},{"v":8,"c":6,"x":200,"y":30},{"v":8,"c":6,"x":300,"y":47},{"v":8,"c":6,"x":350,"y":60},{"v":8,"c":6,"x":400,"y":52},{"v":8,"c":6,"x":500,"y":38},{"v":8,"c":6,"x":600,"y":32},{"v":8,"c":6,"x":700,"y":30},{"v":8,"c":6,"x":800,"y":28},{"v":8,"c":6,"x":900,"y":19},{"v":8,"c":6,"x":1000,"y":11.5},{"v":8,"c":6,"x":1100,"y":7},{"v":8,"c":6,"x":1200,"y":4},{"v":8,"c":6,"x":1300,"y":2.3},{"v":8,"c":6,"x":1400,"y":1.4},{"v":8,"c":6,"x":1500,"y":1},{"v":8,"c":6,"x":1600,"y":0.7},{"v":8,"c":6,"x":1700,"y":0.6},{"v":8,"c":6,"x":1800,"y":0.5},{"v":8,"c":6,"x":2500,"y":0.4},{"v":8,"c":6,"x":4000,"y":0.3},{"v":8,"c":6,"x":6000,"y":0.3},
{"v":8,"c":4,"x":0,"y":5},{"v":8,"c":4,"x":100,"y":18},{"v":8,"c":4,"x":200,"y":30},{"v":8,"c":4,"x":300,"y":47},{"v":8,"c":4,"x":400,"y":32},{"v":8,"c":4,"x":500,"y":23},{"v":8,"c":4,"x":600,"y":21},{"v":8,"c":4,"x":700,"y":22},{"v":8,"c":4,"x":800,"y":15},{"v":8,"c":4,"x":900,"y":7.5},{"v":8,"c":4,"x":1000,"y":3.2},{"v":8,"c":4,"x":1100,"y":1.5},{"v":8,"c":4,"x":1200,"y":0.9},{"v":8,"c":4,"x":1300,"y":0.6},{"v":8,"c":4,"x":1400,"y":0.5},{"v":8,"c":4,"x":1500,"y":0.5},{"v":8,"c":4,"x":2200,"y":0.4},{"v":8,"c":4,"x":4000,"y":0.3},{"v":8,"c":4,"x":6000,"y":0.3},
{"v":9,"c":10,"x":0,"y":5},{"v":9,"c":10,"x":100,"y":24},{"v":9,"c":10,"x":200,"y":33},{"v":9,"c":10,"x":300,"y":40},{"v":9,"c":10,"x":400,"y":60},{"v":9,"c":10,"x":500,"y":80},{"v":9,"c":10,"x":600,"y":58},{"v":9,"c":10,"x":700,"y":43},{"v":9,"c":10,"x":800,"y":46},{"v":9,"c":10,"x":900,"y":56},{"v":9,"c":10,"x":1000,"y":66},{"v":9,"c":10,"x":1100,"y":56},{"v":9,"c":10,"x":1200,"y":43},{"v":9,"c":10,"x":1300,"y":33},{"v":9,"c":10,"x":1400,"y":25},{"v":9,"c":10,"x":1500,"y":18},{"v":9,"c":10,"x":1600,"y":12.5},{"v":9,"c":10,"x":1700,"y":8.5},{"v":9,"c":10,"x":1800,"y":6},{"v":9,"c":10,"x":1900,"y":4.3},{"v":9,"c":10,"x":2000,"y":3.2},{"v":9,"c":10,"x":2200,"y":1.6},{"v":9,"c":10,"x":2400,"y":0.9},{"v":9,"c":10,"x":2600,"y":0.5},{"v":9,"c":10,"x":2800,"y":0.4},{"v":9,"c":10,"x":4000,"y":0.3},{"v":9,"c":10,"x":6000,"y":0.3},
{"v":9,"c":8,"x":0,"y":5},{"v":9,"c":8,"x":100,"y":22},{"v":9,"c":8,"x":200,"y":31},{"v":9,"c":8,"x":300,"y":48},{"v":9,"c":8,"x":400,"y":65},{"v":9,"c":8,"x":500,"y":48},{"v":9,"c":8,"x":600,"y":34},{"v":9,"c":8,"x":700,"y":32},{"v":9,"c":8,"x":800,"y":37},{"v":9,"c":8,"x":900,"y":45},{"v":9,"c":8,"x":1000,"y":31},{"v":9,"c":8,"x":1100,"y":20},{"v":9,"c":8,"x":1200,"y":13},{"v":9,"c":8,"x":1300,"y":8},{"v":9,"c":8,"x":1400,"y":4.7},{"v":9,"c":8,"x":1500,"y":2.8},{"v":9,"c":8,"x":1600,"y":1.9},{"v":9,"c":8,"x":1700,"y":1.3},{"v":9,"c":8,"x":1800,"y":0.9},{"v":9,"c":8,"x":1900,"y":0.7},{"v":9,"c":8,"x":2000,"y":0.6},{"v":9,"c":8,"x":2500,"y":0.4},{"v":9,"c":8,"x":4000,"y":0.3},{"v":9,"c":8,"x":6000,"y":0.3},
{"v":9,"c":6,"x":0,"y":5},{"v":9,"c":6,"x":100,"y":20},{"v":9,"c":6,"x":200,"y":28},{"v":9,"c":6,"x":300,"y":44},{"v":9,"c":6,"x":350,"y":57},{"v":9,"c":6,"x":400,"y":49},{"v":9,"c":6,"x":500,"y":36},{"v":9,"c":6,"x":600,"y":30},{"v":9,"c":6,"x":700,"y":28},{"v":9,"c":6,"x":800,"y":26},{"v":9,"c":6,"x":900,"y":17.5},{"v":9,"c":6,"x":1000,"y":10.5},{"v":9,"c":6,"x":1100,"y":6.3},{"v":9,"c":6,"x":1200,"y":3.6},{"v":9,"c":6,"x":1300,"y":2.1},{"v":9,"c":6,"x":1400,"y":1.3},{"v":9,"c":6,"x":1500,"y":0.9},{"v":9,"c":6,"x":1600,"y":0.7},{"v":9,"c":6,"x":1700,"y":0.5},{"v":9,"c":6,"x":1800,"y":0.5},{"v":9,"c":6,"x":2500,"y":0.4},{"v":9,"c":6,"x":4000,"y":0.3},{"v":9,"c":6,"x":6000,"y":0.3},
{"v":9,"c":4,"x":0,"y":4},{"v":9,"c":4,"x":100,"y":17},{"v":9,"c":4,"x":200,"y":28},{"v":9,"c":4,"x":300,"y":43},{"v":9,"c":4,"x":400,"y":30},{"v":9,"c":4,"x":500,"y":21},{"v":9,"c":4,"x":600,"y":19},{"v":9,"c":4,"x":700,"y":20},{"v":9,"c":4,"x":800,"y":14},{"v":9,"c":4,"x":900,"y":7},{"v":9,"c":4,"x":1000,"y":3},{"v":9,"c":4,"x":1100,"y":1.4},{"v":9,"c":4,"x":1200,"y":0.8},{"v":9,"c":4,"x":1300,"y":0.6},{"v":9,"c":4,"x":1400,"y":0.5},{"v":9,"c":4,"x":1500,"y":0.5},{"v":9,"c":4,"x":2200,"y":0.4},{"v":9,"c":4,"x":4000,"y":0.3},{"v":9,"c":4,"x":6000,"y":0.3},
{"v":10,"c":10,"x":0,"y":4},{"v":10,"c":10,"x":100,"y":22},{"v":10,"c":10,"x":200,"y":31},{"v":10,"c":10,"x":300,"y":38},{"v":10,"c":10,"x":400,"y":56},{"v":10,"c":10,"x":500,"y":75},{"v":10,"c":10,"x":600,"y":54},{"v":10,"c":10,"x":700,"y":41},{"v":10,"c":10,"x":800,"y":44},{"v":10,"c":10,"x":900,"y":53},{"v":10,"c":10,"x":1000,"y":62},{"v":10,"c":10,"x":1100,"y":52},{"v":10,"c":10,"x":1200,"y":40},{"v":10,"c":10,"x":1300,"y":31},{"v":10,"c":10,"x":1400,"y":23},{"v":10,"c":10,"x":1500,"y":17},{"v":10,"c":10,"x":1600,"y":12},{"v":10,"c":10,"x":1700,"y":8},{"v":10,"c":10,"x":1800,"y":5.5},{"v":10,"c":10,"x":1900,"y":4},{"v":10,"c":10,"x":2000,"y":3},{"v":10,"c":10,"x":2200,"y":1.5},{"v":10,"c":10,"x":2400,"y":0.9},{"v":10,"c":10,"x":2600,"y":0.5},{"v":10,"c":10,"x":2800,"y":0.4},{"v":10,"c":10,"x":4000,"y":0.3},{"v":10,"c":10,"x":6000,"y":0.3},
{"v":10,"c":8,"x":0,"y":4},{"v":10,"c":8,"x":100,"y":20},{"v":10,"c":8,"x":200,"y":29},{"v":10,"c":8,"x":300,"y":45},{"v":10,"c":8,"x":400,"y":61},{"v":10,"c":8,"x":500,"y":45},{"v":10,"c":8,"x":600,"y":32},{"v":10,"c":8,"x":700,"y":30},{"v":10,"c":8,"x":800,"y":34},{"v":10,"c":8,"x":900,"y":42},{"v":10,"c":8,"x":1000,"y":29},{"v":10,"c":8,"x":1100,"y":19},{"v":10,"c":8,"x":1200,"y":12},{"v":10,"c":8,"x":1300,"y":7.5},{"v":10,"c":8,"x":1400,"y":4.4},{"v":10,"c":8,"x":1500,"y":2.6},{"v":10,"c":8,"x":1600,"y":1.8},{"v":10,"c":8,"x":1700,"y":1.3},{"v":10,"c":8,"x":1800,"y":0.9},{"v":10,"c":8,"x":1900,"y":0.7},{"v":10,"c":8,"x":2000,"y":0.6},{"v":10,"c":8,"x":2500,"y":0.4},{"v":10,"c":8,"x":4000,"y":0.3},{"v":10,"c":8,"x":6000,"y":0.3},
{"v":10,"c":6,"x":0,"y":4},{"v":10,"c":6,"x":100,"y":18},{"v":10,"c":6,"x":200,"y":26},{"v":10,"c":6,"x":300,"y":41},{"v":10,"c":6,"x":350,"y":53},{"v":10,"c":6,"x":400,"y":45},{"v":10,"c":6,"x":500,"y":33},{"v":10,"c":6,"x":600,"y":28},{"v":10,"c":6,"x":700,"y":26},{"v":10,"c":6,"x":800,"y":24},{"v":10,"c":6,"x":900,"y":16},{"v":10,"c":6,"x":1000,"y":9.7},{"v":10,"c":6,"x":1100,"y":5.7},{"v":10,"c":6,"x":1200,"y":3.2},{"v":10,"c":6,"x":1300,"y":1.9},{"v":10,"c":6,"x":1400,"y":1.2},{"v":10,"c":6,"x":1500,"y":0.9},{"v":10,"c":6,"x":1600,"y":0.7},{"v":10,"c":6,"x":1700,"y":0.5},{"v":10,"c":6,"x":1800,"y":0.5},{"v":10,"c":6,"x":2500,"y":0.4},{"v":10,"c":6,"x":4000,"y":0.3},{"v":10,"c":6,"x":6000,"y":0.3},
{"v":10,"c":4,"x":0,"y":3},{"v":10,"c":4,"x":100,"y":15},{"v":10,"c":4,"x":200,"y":25},{"v":10,"c":4,"x":300,"y":40},{"v":10,"c":4,"x":400,"y":27},{"v":10,"c":4,"x":500,"y":19},{"v":10,"c":4,"x":600,"y":17},{"v":10,"c":4,"x":700,"y":18},{"v":10,"c":4,"x":800,"y":12.5},{"v":10,"c":4,"x":900,"y":6.3},{"v":10,"c":4,"x":1000,"y":2.7},{"v":10,"c":4,"x":1100,"y":1.3},{"v":10,"c":4,"x":1200,"y":0.8},{"v":10,"c":4,"x":1300,"y":0.6},{"v":10,"c":4,"x":1400,"y":0.5},{"v":10,"c":4,"x":1500,"y":0.5},{"v":10,"c":4,"x":2200,"y":0.4},{"v":10,"c":4,"x":4000,"y":0.3},{"v":10,"c":4,"x":6000,"y":0.3},
{"v":11,"c":10,"x":0,"y":3},{"v":11,"c":10,"x":100,"y":18},{"v":11,"c":10,"x":200,"y":26},{"v":11,"c":10,"x":300,"y":32},{"v":11,"c":10,"x":400,"y":51},{"v":11,"c":10,"x":500,"y":70},{"v":11,"c":10,"x":600,"y":53},{"v":11,"c":10,"x":700,"y":41},{"v":11,"c":10,"x":800,"y":42},{"v":11,"c":10,"x":900,"y":51},{"v":11,"c":10,"x":1000,"y":58},{"v":11,"c":10,"x":1100,"y":48},{"v":11,"c":10,"x":1200,"y":38},{"v":11,"c":10,"x":1300,"y":29},{"v":11,"c":10,"x":1400,"y":22},{"v":11,"c":10,"x":1500,"y":16},{"v":11,"c":10,"x":1600,"y":11},{"v":11,"c":10,"x":1700,"y":7.5},{"v":11,"c":10,"x":1800,"y":5},{"v":11,"c":10,"x":1900,"y":3.8},{"v":11,"c":10,"x":2000,"y":3},{"v":11,"c":10,"x":2200,"y":1.5},{"v":11,"c":10,"x":2400,"y":0.8},{"v":11,"c":10,"x":2600,"y":0.5},{"v":11,"c":10,"x":2800,"y":0.4},{"v":11,"c":10,"x":4000,"y":0.3},{"v":11,"c":10,"x":6000,"y":0.3},
{"v":11,"c":8,"x":0,"y":3},{"v":11,"c":8,"x":100,"y":17},{"v":11,"c":8,"x":200,"y":26},{"v":11,"c":8,"x":300,"y":40},{"v":11,"c":8,"x":400,"y":57},{"v":11,"c":8,"x":500,"y":38},{"v":11,"c":8,"x":600,"y":29},{"v":11,"c":8,"x":700,"y":27},{"v":11,"c":8,"x":800,"y":31},{"v":11,"c":8,"x":900,"y":38},{"v":11,"c":8,"x":1000,"y":28},{"v":11,"c":8,"x":1100,"y":18},{"v":11,"c":8,"x":1200,"y":10},{"v":11,"c":8,"x":1300,"y":6},{"v":11,"c":8,"x":1400,"y":3.5},{"v":11,"c":8,"x":1500,"y":2},{"v":11,"c":8,"x":1600,"y":1.3},{"v":11,"c":8,"x":1700,"y":1},{"v":11,"c":8,"x":1800,"y":0.8},{"v":11,"c":8,"x":1900,"y":0.6},{"v":11,"c":8,"x":2000,"y":0.5},{"v":11,"c":8,"x":2500,"y":0.4},{"v":11,"c":8,"x":4000,"y":0.3},{"v":11,"c":8,"x":6000,"y":0.3},
{"v":11,"c":6,"x":0,"y":3},{"v":11,"c":6,"x":100,"y":15},{"v":11,"c":6,"x":200,"y":23},{"v":11,"c":6,"x":300,"y":37},{"v":11,"c":6,"x":350,"y":48},{"v":11,"c":6,"x":400,"y":40},{"v":11,"c":6,"x":500,"y":29},{"v":11,"c":6,"x":600,"y":24},{"v":11,"c":6,"x":700,"y":23},{"v":11,"c":6,"x":800,"y":22},{"v":11,"c":6,"x":900,"y":15},{"v":11,"c":6,"x":1000,"y":9},{"v":11,"c":6,"x":1100,"y":5},{"v":11,"c":6,"x":1200,"y":2.8},{"v":11,"c":6,"x":1300,"y":1.6},{"v":11,"c":6,"x":1400,"y":1},{"v":11,"c":6,"x":1500,"y":0.7},{"v":11,"c":6,"x":1600,"y":0.6},{"v":11,"c":6,"x":1700,"y":0.5},{"v":11,"c":6,"x":1800,"y":0.5},{"v":11,"c":6,"x":2500,"y":0.4},{"v":11,"c":6,"x":4000,"y":0.3},{"v":11,"c":6,"x":6000,"y":0.3},
{"v":11,"c":4,"x":0,"y":2},{"v":11,"c":4,"x":100,"y":12},{"v":11,"c":4,"x":200,"y":22},{"v":11,"c":4,"x":300,"y":32},{"v":11,"c":4,"x":400,"y":22},{"v":11,"c":4,"x":500,"y":18},{"v":11,"c":4,"x":600,"y":15},{"v":11,"c":4,"x":700,"y":15},{"v":11,"c":4,"x":800,"y":13},{"v":11,"c":4,"x":900,"y":6},{"v":11,"c":4,"x":1000,"y":2.5},{"v":11,"c":4,"x":1100,"y":1.2},{"v":11,"c":4,"x":1200,"y":0.8},{"v":11,"c":4,"x":1300,"y":0.6},{"v":11,"c":4,"x":1400,"y":0.5},{"v":11,"c":4,"x":1500,"y":0.5},{"v":11,"c":4,"x":2200,"y":0.4},{"v":11,"c":4,"x":4000,"y":0.3},{"v":11,"c":4,"x":6000,"y":0.3}
]},
"vconcat": [{
 "title": {"text": "Average Trip Delay (minutes)", "orient": "left", "anchor": "middle", "fontSize": 18, "fontWeight": "normal", "color": "#404040", "offset": 9, "font": "Liberation Sans"},
 "facet": {"field": "v", "type": "ordinal", "title": null, "header": {"labelExpr": "'Number of Extra Vertipads = ' + datum.value"}},
 "columns": 4,
 "spacing": {"column": 27.5, "row": 36},
 "resolve": {"axis": {"x": "independent", "y": "independent"}},
 "spec": {
  "width": 187,
  "height": 201,
  "encoding": {
   "x": {"field": "x", "type": "quantitative", "scale": {"domain": [0, 6000], "nice": false}, "axis": {"values": [0, 2000, 4000, 6000], "format": "d", "labelOverlap": false}},
   "y": {"field": "y", "type": "quantitative", "scale": {"domain": [0, 160], "nice": false}, "axis": {"values": [0, 20, 40, 60, 80, 100, 120, 140, 160], "format": "d", "labelOverlap": false}},
   "color": {"field": "c", "type": "nominal", "scale": {"domain": [4, 6, 8, 10], "range": ["#7E2F8E", "#EDB120", "#D95319", "#0072BD"]},
    "legend": {"orient": "none", "legendX": 786, "legendY": 562, "title": null, "labelExpr": "'Vehicle capacity ' + datum.label", "fillColor": "white", "strokeColor": "#262626", "padding": 5, "labelFontSize": 12.5, "labelColor": "#000000", "labelFont": "Liberation Sans", "symbolType": "M-1,0L1,0M0,-1L0,1", "symbolSize": 30, "symbolStrokeWidth": 1.5, "rowPadding": 3.5, "labelOffset": 5, "symbolOffset": 8}}
  },
  "layer": [
   {"mark": {"type": "line", "strokeWidth": 3.2, "interpolate": "linear"}, "encoding": {"detail": {"field": "c"}}},
   {"mark": {"type": "point", "shape": "M-1,0L1,0M0,-1L0,1", "filled": false, "size": 30, "strokeWidth": 1.2, "opacity": 1}, "encoding": {}}
  ]
 }
}]
}
